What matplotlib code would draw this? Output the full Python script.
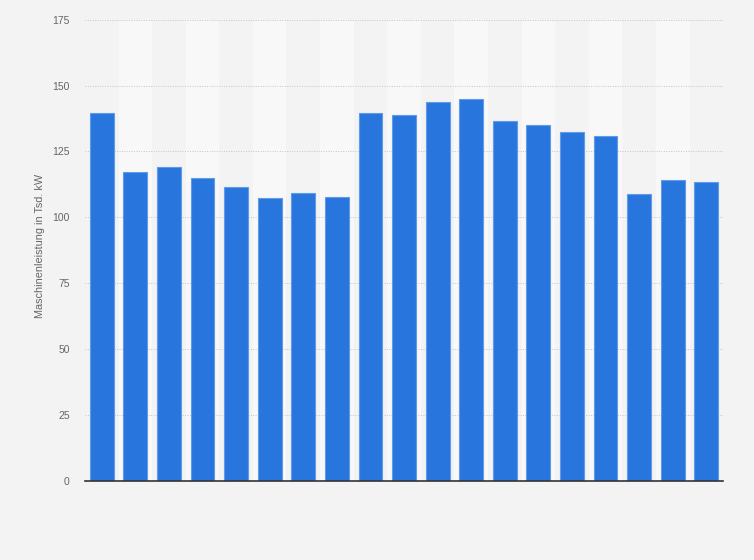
import matplotlib.pyplot as plt
import numpy as np

# Maschinenleistung in Tsd. kW
values = [139.5, 117.3, 119.0, 114.8, 111.4, 107.3, 109.1, 107.6, 139.5, 138.8,
          143.8, 144.8, 136.4, 135.0, 132.3, 130.8, 108.8, 114.1, 113.4]
y_ticks = [0, 25, 50, 75, 100, 125, 150, 175]
y_label = 'Maschinenleistung in Tsd. kW'

plt.rcParams['font.family'] = ['Liberation Sans', 'DejaVu Sans']

bg = '#f3f3f3'
fig = plt.figure(figsize=(7.54, 5.6), dpi=100, facecolor=bg)
ax = fig.add_axes([0.1127, 0.141, 0.8463, 0.824])
ax.set_facecolor(bg)

x = np.arange(len(values))

# alternating column stripes
for i in x:
    if i % 2 == 1:
        ax.axvspan(i - 0.5, i + 0.5, color='#f8f8f8', zorder=0, lw=0)

ax.bar(x, values, width=0.71, color='#2876dd', edgecolor='#5f9be8',
       linewidth=0.8, zorder=3)

ax.set_xlim(-0.5, len(values) - 0.5)
ax.set_ylim(0, 175)
ax.set_yticks(y_ticks)
ax.set_yticklabels([str(t) for t in y_ticks], color='#666666', fontsize=7.5)
ax.set_xticks([])
ax.tick_params(axis='y', length=0, pad=11)

ax.grid(axis='y', color='#c4c4c4', linestyle=(0, (1, 1.5)), linewidth=0.7, zorder=1)

for side in ['top', 'right', 'left']:
    ax.spines[side].set_visible(False)
ax.spines['bottom'].set_color('#333333')
ax.spines['bottom'].set_linewidth(1.2)
ax.spines['bottom'].set_zorder(4)

ax.set_ylabel(y_label, color='#666666', fontsize=7.8)
ax.yaxis.set_label_coords(-0.062, 0.51)

fig.savefig('out.png', dpi=100, facecolor=bg)
